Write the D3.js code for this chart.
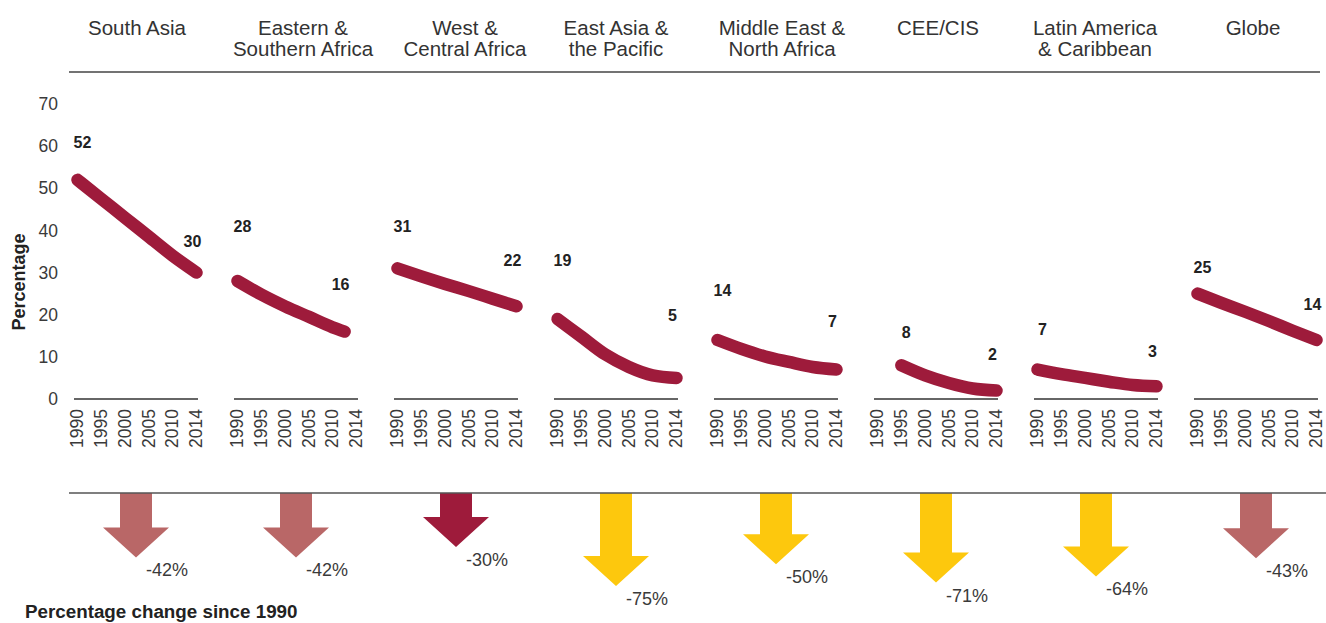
<!DOCTYPE html>
<html>
<head>
<meta charset="utf-8">
<script src="https://cdn.jsdelivr.net/npm/d3@7"></script>
<style>
  html, body { margin: 0; padding: 0; background: #fff; }
  svg { display: block; font-family: "Liberation Sans", Arial, sans-serif; }
</style>
</head>
<body>
<svg id="chart" width="1326" height="623"></svg>
<script>
// Regions shown as small multiples, left to right
const regions = [
  "South Asia", "Eastern & Southern Africa", "West & Central Africa",
  "East Asia & the Pacific", "Middle East & North Africa", "CEE/CIS",
  "Latin America & Caribbean", "Globe"
];
const headerLines = [
  ["South Asia"], ["Eastern &", "Southern Africa"], ["West &", "Central Africa"],
  ["East Asia &", "the Pacific"], ["Middle East &", "North Africa"], ["CEE/CIS"],
  ["Latin America", "& Caribbean"], ["Globe"]
];
const yearTicks = [1990, 1995, 2000, 2005, 2010, 2014];
const yTicks = [0, 10, 20, 30, 40, 50, 60, 70];

// Percentage per region over time: [year, value]
const seriesSouthAsia        = [[1990, 52], [1995, 47.5], [2000, 43], [2005, 38.5], [2010, 34], [2014, 30]];
const seriesEastSouthAfrica  = [[1990, 28], [1995, 24.8], [2000, 22], [2005, 19.5], [2010, 17], [2012, 16]];
const seriesWestCentAfrica   = [[1990, 31], [1995, 29.1], [2000, 27.3], [2005, 25.6], [2010, 23.8], [2014, 22]];
const seriesEastAsiaPacific  = [[1990, 19], [1995, 14.8], [2000, 10.6], [2005, 7.6], [2010, 5.6], [2014, 5]];
const seriesMidEastNAfrica   = [[1990, 14], [1995, 11.9], [2000, 10.1], [2005, 8.8], [2010, 7.6], [2014, 7]];
const seriesCeeCis           = [[1995, 8], [2000, 5.6], [2005, 3.8], [2010, 2.5], [2014, 2]];
const seriesLatinAmerica     = [[1990, 7], [1995, 5.9], [2000, 5], [2005, 4.1], [2010, 3.3], [2014, 3]];
const seriesGlobe            = [[1990, 25], [1995, 22.8], [2000, 20.7], [2005, 18.5], [2010, 16.2], [2014, 14]];
const allSeries = [
  seriesSouthAsia, seriesEastSouthAfrica, seriesWestCentAfrica, seriesEastAsiaPacific,
  seriesMidEastNAfrica, seriesCeeCis, seriesLatinAmerica, seriesGlobe
];

// Percentage change since 1990
const changeSince1990 = [-42, -42, -30, -75, -50, -71, -64, -43];

// Vertical nudges (px) for the start / end value labels
const labelLift = [[37, 31], [55, 47], [42, 46], [59, 63], [50, 48], [33, 36], [40, 35], [26, 36]];
// Horizontal nudges (px) for the region headers
const headerShift = [1, 7, 9, 0, 6, 2, -1, -3];

const svg = d3.select("#chart");
const RED = "#9e1b3b";
const TEXT = "#3a3a3a";

const panel = d3.scaleBand().domain(regions).range([74, 1318]).paddingInner(0.225).paddingOuter(0);
const y = d3.scaleLinear().domain([0, 70]).range([399, 104]);
const yearPos = d3.scalePoint().domain(yearTicks).range([3.5, 122.5]);
const xYear = d3.scaleLinear().domain(yearTicks).range(yearTicks.map(yearPos));

// Top rule
svg.append("line").attr("x1", 69).attr("x2", 1320).attr("y1", 72).attr("y2", 72)
  .attr("stroke", "#444").attr("stroke-width", 1.5);

// Y axis
const yAxis = svg.append("g").attr("transform", "translate(58,0)")
  .call(d3.axisLeft(y).tickValues(yTicks).tickSize(0).tickPadding(0));
yAxis.select(".domain").remove();
yAxis.selectAll("text").attr("font-size", 17.5).attr("fill", TEXT)
  .attr("font-family", "Liberation Sans, Arial, sans-serif");

svg.append("text").attr("transform", "translate(25,282) rotate(-90)")
  .attr("text-anchor", "middle").attr("font-size", 18).attr("font-weight", "bold")
  .attr("fill", "#222").text("Percentage");

const line = d3.line().x(d => xYear(d[0])).y(d => y(d[1])).curve(d3.curveMonotoneX);

regions.forEach((r, i) => {
  const x0 = panel(r);
  const w = panel.bandwidth();
  const g = svg.append("g").attr("transform", `translate(${x0},0)`);

  // Header
  const h = g.append("text").attr("text-anchor", "middle").attr("font-size", 20.5)
    .attr("fill", "#333");
  headerLines[i].forEach((t, k) => {
    h.append("tspan").attr("x", w / 2 + headerShift[i]).attr("y", 35 + k * 20.5).text(t);
  });

  // Baseline
  g.append("line").attr("x1", 0).attr("x2", w).attr("y1", y(0)).attr("y2", y(0))
    .attr("stroke", "#333").attr("stroke-width", 1.3);

  // Year ticks
  const xa = g.append("g").attr("transform", `translate(0,${y(0)})`)
    .call(d3.axisBottom(xYear).tickValues(yearTicks).tickFormat(d3.format("d")).tickSize(0));
  xa.select(".domain").remove();
  xa.selectAll("text")
    .attr("transform", "rotate(-90)").attr("x", -10).attr("y", 0).attr("dy", "0.3em")
    .attr("text-anchor", "end").attr("font-size", 17.5).attr("fill", TEXT)
    .attr("font-family", "Liberation Sans, Arial, sans-serif");

  // Trend line
  const s = allSeries[i];
  g.append("path").datum(s).attr("d", line).attr("fill", "none")
    .attr("stroke", RED).attr("stroke-width", 12.5)
    .attr("stroke-linecap", "round").attr("stroke-linejoin", "round");

  // Start / end value labels
  const first = s[0], last = s[s.length - 1];
  g.append("text").attr("x", xYear(first[0]) + 5).attr("y", y(first[1]) - labelLift[i][0])
    .attr("dy", "0.35em").attr("text-anchor", "middle").attr("font-size", 16)
    .attr("font-weight", "bold").attr("fill", "#222").text(d3.format("d")(first[1]));
  g.append("text").attr("x", xYear(last[0]) - 4).attr("y", y(last[1]) - labelLift[i][1])
    .attr("dy", "0.35em").attr("text-anchor", "middle").attr("font-size", 16)
    .attr("font-weight", "bold").attr("fill", "#222").text(d3.format("d")(last[1]));
});

// Change arrows
const arrowTop = 493;
const arrowLen = d3.scaleLinear().domain([0, 75]).range([28, 93]);
const tier = d3.scaleThreshold().domain([40, 50]).range([RED, "#b96767", "#fdc80d"]);
const shaftHalf = 16, headHalf = 33, headLen = 30;

regions.forEach((r, i) => {
  const v = changeSince1990[i];
  const cx = panel(r) + panel.bandwidth() / 2;
  const L = arrowLen(Math.abs(v));
  const tipY = arrowTop + L;
  const baseY = tipY - headLen;
  const p = d3.path();
  p.moveTo(cx - shaftHalf, arrowTop);
  p.lineTo(cx + shaftHalf, arrowTop);
  p.lineTo(cx + shaftHalf, baseY);
  p.lineTo(cx + headHalf, baseY);
  p.lineTo(cx, tipY);
  p.lineTo(cx - headHalf, baseY);
  p.lineTo(cx - shaftHalf, baseY);
  p.closePath();
  svg.append("path").attr("d", p.toString()).attr("fill", tier(Math.abs(v)));
  svg.append("text").attr("x", cx + 10).attr("y", tipY + 19)
    .attr("font-size", 18).attr("fill", TEXT).text(v + "%");
});

// Bottom rule
svg.append("line").attr("x1", 69).attr("x2", 1326).attr("y1", arrowTop).attr("y2", arrowTop)
  .attr("stroke", "#555").attr("stroke-width", 1.5);

svg.append("text").attr("x", 25).attr("y", 618).attr("font-size", 18.8)
  .attr("font-weight", "bold").attr("fill", "#222").text("Percentage change since 1990");
</script>
</body>
</html>
